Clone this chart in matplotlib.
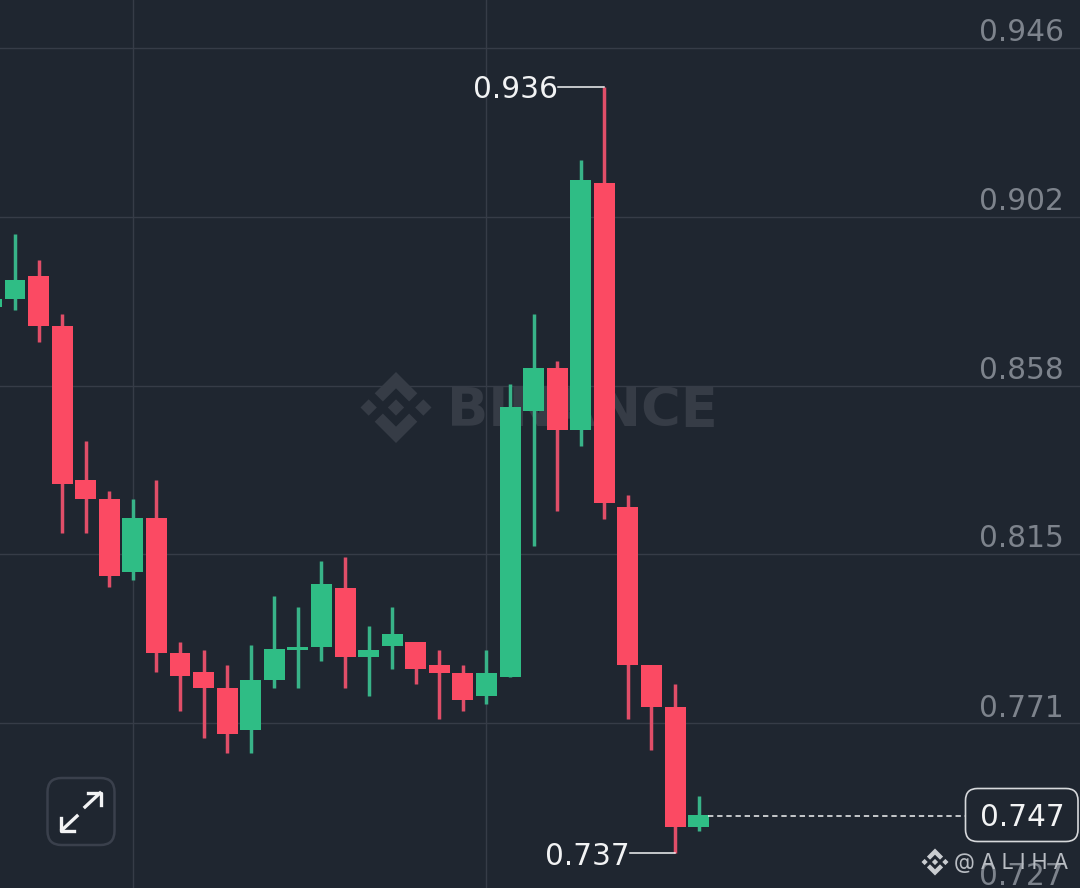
import matplotlib
matplotlib.use("Agg")
import matplotlib.pyplot as plt
from matplotlib.patches import FancyBboxPatch, Polygon
from matplotlib.transforms import Affine2D

# candles, first one is cut by the left edge
opens = [0.8787, 0.8808, 0.8868, 0.8738, 0.8338, 0.8288, 0.8099, 0.8238, 0.7888, 0.7839, 0.7797,
         0.7687, 0.7818, 0.7896, 0.7905, 0.8057, 0.7878, 0.7906, 0.7917, 0.7857, 0.7836,
         0.7777, 0.7826, 0.8517, 0.8629, 0.8468, 0.9108, 0.8268, 0.7857, 0.7748, 0.7436]
highs = [0.8818, 0.8977, 0.8909, 0.8769, 0.8439, 0.8308, 0.8288, 0.8338, 0.7917, 0.7897, 0.7857,
         0.7908, 0.8036, 0.8008, 0.8127, 0.8138, 0.7958, 0.8008, 0.7917, 0.7897, 0.7857,
         0.7897, 0.8587, 0.8769, 0.8647, 0.9169, 0.9359, 0.8299, 0.7857, 0.7808, 0.7517]
lows = [0.8779, 0.8779, 0.8696, 0.8200, 0.8200, 0.8060, 0.8078, 0.7839, 0.7738, 0.7667, 0.7628,
        0.7628, 0.7797, 0.7797, 0.7867, 0.7797, 0.7777, 0.7847, 0.7808, 0.7717, 0.7738,
        0.7756, 0.7826, 0.8166, 0.8257, 0.8426, 0.8236, 0.7717, 0.7636, 0.7369, 0.7426]
closes = [0.8808, 0.8857, 0.8738, 0.8327, 0.8288, 0.8088, 0.8238, 0.7888, 0.7828, 0.7797, 0.7677,
          0.7818, 0.7899, 0.7905, 0.8067, 0.7878, 0.7896, 0.7938, 0.7847, 0.7836, 0.7766,
          0.7836, 0.8527, 0.8629, 0.8468, 0.9117, 0.8278, 0.7857, 0.7748, 0.7436, 0.7467]

# tick levels are evenly spaced, the labels show them rounded
price_ticks = [0.9460, 0.9021, 0.8582, 0.8146, 0.7706, 0.7268]
grid_candles = [5, 20]
high_label = 0.936
low_label = 0.737
last_price = 0.747

BG = "#1f2630"
GRID = "#363c47"
RED = "#fb4a63"
GREEN = "#2fbd85"
RED_WICK = "#e04e68"
GREEN_WICK = "#38b388"
TICK = "#7d838c"
MARK = "#363c46"
WHITE = "#f2f3f4"

plt.rcParams["font.family"] = ["DejaVu Sans"]

fig = plt.figure(figsize=(10.8, 8.88), dpi=100, facecolor=BG)
ax = fig.add_axes([0, 0, 1, 1], facecolor=BG)
ax.set_xlim(-0.6364, 45.18)
ax.set_ylim(0.72777, 0.95847)
ax.axis("off")

# pixel coordinates of the picture for the non data stuff
px = Affine2D().scale(1 / 1080, -1 / 888).translate(0, 1) + ax.transAxes


def logo(cx, cy, r, color, zorder):
    # binance diamond: centre, two sides, two chevrons
    for dx in (-0.77, 0, 0.77):
        d = 0.23
        pts = [(dx, -d), (dx + d, 0), (dx, d), (dx - d, 0)]
        ax.add_patch(Polygon([(cx + a * r, cy + b * r) for a, b in pts], closed=True, fc=color,
                             ec="none", transform=px, zorder=zorder))
    chevron = [(0, -1), (0.6, -0.4), (0.37, -0.17), (0, -0.54), (-0.37, -0.17), (-0.6, -0.4)]
    for sign in (1, -1):
        ax.add_patch(Polygon([(cx + a * r, cy + sign * b * r) for a, b in chevron], closed=True,
                             fc=color, ec="none", transform=px, zorder=zorder))


# grid
for p in price_ticks:
    ax.axhline(p, color=GRID, lw=1.0, zorder=1)
for c in grid_candles:
    ax.axvline(c, color=GRID, lw=1.0, zorder=1)

# price axis labels sit above their grid line
for p in price_ticks:
    ax.annotate(f"{p:.3f}", xy=(1064 / 1080, p), xycoords=("axes fraction", "data"), xytext=(0, 13),
                textcoords="offset points", ha="right", va="center_baseline", color=TICK, fontsize=21.3,
                zorder=2, annotation_clip=False)

# watermark under the candles
logo(396, 407.5, 35.5, MARK, 2)
ax.text(582.5, 405, "BINANCE", transform=px, ha="center", va="center_baseline", color=MARK, fontsize=39,
        fontweight="bold", zorder=2)

# candles
for i in range(len(opens)):
    x = i - 1
    up = closes[i] >= opens[i]
    ax.vlines(x, lows[i], highs[i], color=GREEN_WICK if up else RED_WICK, lw=2.5, zorder=3)
    ax.bar(x, abs(closes[i] - opens[i]), bottom=min(opens[i], closes[i]), width=0.89,
           color=GREEN if up else RED, linewidth=0, zorder=4)

# high / low markers
ax.plot([558, 604], [87, 87], color=WHITE, lw=1.1, transform=px, zorder=5)
ax.text(558, 86, f"{high_label:.3f}", transform=px, ha="right", va="center_baseline", color=WHITE, fontsize=21.3, zorder=5)
ax.plot([630, 675], [853, 853], color=WHITE, lw=1.1, transform=px, zorder=5)
ax.text(630, 853, f"{low_label:.3f}", transform=px, ha="right", va="center_baseline", color=WHITE, fontsize=21.3, zorder=5)

# last price line and box
ax.plot([708, 965], [815.5, 815.5], color=WHITE, lw=1.1, ls=(0, (3.5, 2.5)), transform=px, zorder=5)
ax.add_patch(FancyBboxPatch((965.5, 788.5), 112.5, 53, boxstyle="round,pad=0,rounding_size=12", fc=BG,
                            ec="#d6d8db", lw=1.2, transform=px, zorder=5))
ax.text(1022, 814, f"{last_price:.3f}", transform=px, ha="center", va="center_baseline", color=WHITE, fontsize=21.3, zorder=6)

# expand button
ax.add_patch(FancyBboxPatch((47.5, 778), 67, 67, boxstyle="round,pad=0,rounding_size=14", fc="none",
                            ec="#3a404c", lw=1.8, transform=px, zorder=5))
ax.plot([85, 100], [807, 793], color=WHITE, lw=2.4, transform=px, zorder=6)
ax.plot([88, 101, 101], [792.5, 792.5, 805], color=WHITE, lw=2.4, transform=px, zorder=6)
ax.plot([77, 62], [816, 830], color=WHITE, lw=2.4, transform=px, zorder=6)
ax.plot([61, 61, 74], [818, 830.5, 830.5], color=WHITE, lw=2.4, transform=px, zorder=6)

# author tag over everything
logo(935, 862, 13.5, "#c9ccd0", 7)
ax.text(954, 861, "@ A L I H A", transform=px, ha="left", va="center_baseline", color="#b9bdc3", fontsize=15.5,
        family="Inter", zorder=7)

fig.savefig("out.png", dpi=100, facecolor=BG)
